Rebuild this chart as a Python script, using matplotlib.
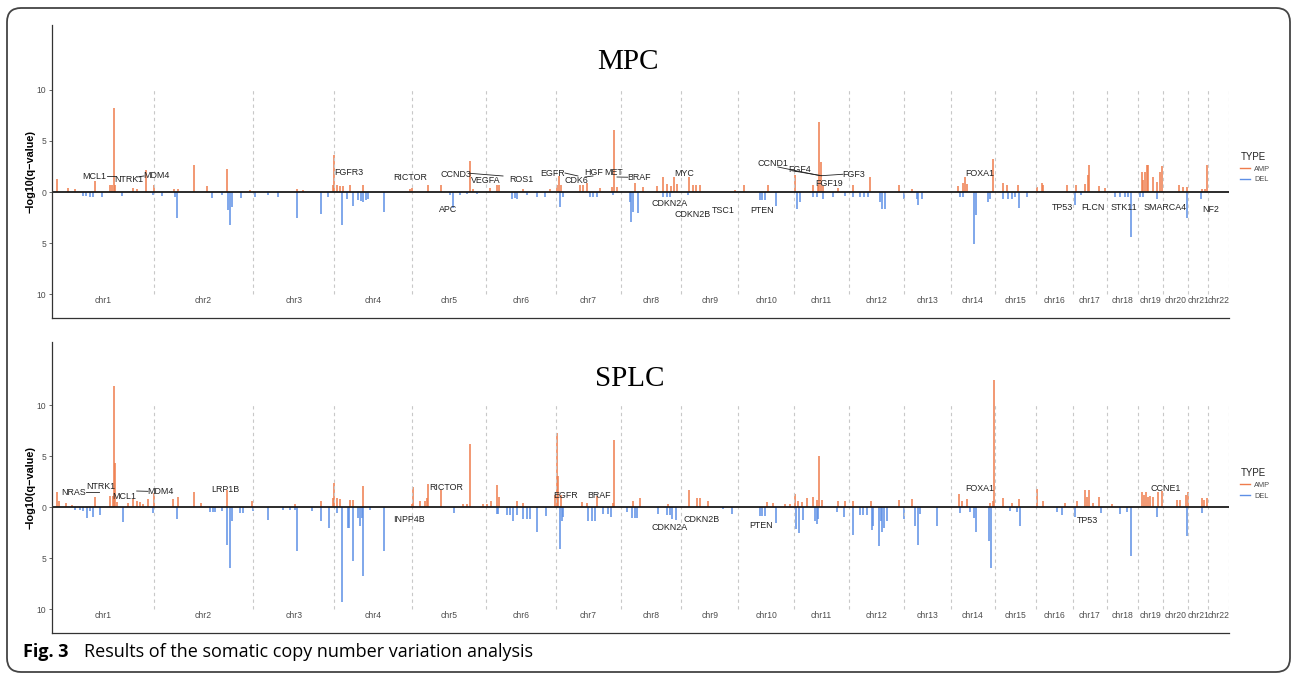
### Somatic copy number variation (GISTIC-style) plot, MPC vs SPLC

import numpy as np
import matplotlib.pyplot as plt
from matplotlib.lines import Line2D
from matplotlib.patches import FancyBboxPatch

# chromosome names and hg19 lengths (Mb)
chrom_names = ['chr' + str(i) for i in range(1, 23)]
chrom_len = [249.25, 243.20, 198.02, 191.15, 180.92, 171.12, 159.14, 146.36, 141.21, 135.53, 135.01,
             133.85, 115.17, 107.35, 102.53, 90.35, 81.20, 78.08, 59.13, 63.03, 48.13, 51.30]

# MPC: genome position (Mb, cumulative) and -log10(q)
mpc_amp_pos = [13.0, 39.2, 56.3, 105.3, 142.0, 146.9, 152.5, 155.4, 198.3, 208.9, 229.4, 249.7, 298.6, 308.4,
               346.9, 378.6, 428.3, 484.6, 599.0, 615.1, 691.0, 687.8, 697.6, 705.0, 712.3, 729.4, 760.5,
               876.3, 880.5, 919.6, 951.4, 1023.2, 1031.3, 1072.1, 1089.3, 1094.9, 1153.6, 1218.9, 1241.0,
               1236.1, 1245.9, 1292.4, 1299.8, 1308.8, 1341.3, 1376.4, 1370.0, 1382.2, 1427.0, 1447.4,
               1480.1, 1494.9, 1504.6, 1514.4, 1523.2, 1530.6, 1559.9, 1569.0, 1576.3, 1586.1, 1671.8,
               1693.8, 1752.6, 1818.7, 1862.7, 1875.0, 1877.4, 1882.3, 1887.9, 1924.7, 1959.9, 2002.2,
               2074.0, 2104.3, 2218.4, 2230.7, 2235.6, 2238.9, 2304.1, 2327.1, 2336.9, 2365.3, 2410.3,
               2422.6, 2426.4, 2483.7, 2506.5, 2528.5, 2535.1, 2539.0, 2563.5, 2577.4, 2668.0, 2671.7,
               2675.4, 2679.5, 2683.4, 2695.7, 2704.0, 2712.1, 2717.7, 2759.3, 2769.1, 2778.1, 2814.2,
               2822.2, 2827.9]
mpc_amp_val = [1.24, 0.4, 0.3, 1.1, 0.65, 0.65, 8.2, 0.65, 0.4, 0.3, 2.2, 0.65, 0.3, 0.25,
               2.6, 0.6, 2.3, 0.2, 0.3, 0.15, 3.66, 0.65, 0.65, 0.6, 0.55, 0.7, 0.7,
               0.25, 0.4, 0.7, 0.7, 3.0, 0.3, 0.4, 0.65, 0.65, 0.3, 0.25, 1.6,
               0.65, 0.65, 0.7, 0.7, 0.9, 0.4, 6.05, 0.5, 0.5, 0.9, 0.5,
               0.6, 1.5, 0.8, 0.6, 1.45, 0.8, 1.5, 0.65, 0.65, 0.65, 0.2,
               0.7, 0.65, 1.63, 0.65, 0.65, 6.86, 2.9, 0.6, 0.4, 0.65, 1.47,
               0.7, 0.3, 0.6, 0.9, 1.47, 0.8, 3.27, 0.9, 0.7, 0.7, 0.5,
               0.9, 0.65, 0.7, 0.65, 0.8, 1.7, 2.6, 0.6, 0.4, 2.0, 1.2,
               2.0, 2.6, 2.6, 1.47, 1.0, 2.0, 2.55, 0.7, 0.5, 0.5, 0.3,
               0.3, 2.6]
mpc_del_pos = [75.9, 83.2, 93.0, 101.1, 121.6, 170.6, 248.0, 268.5, 301.1, 305.2, 390.9, 415.4, 431.6,
               435.7, 439.9, 461.9, 496.9, 529.5, 553.9, 600.4, 657.7, 676.3, 709.8, 721.3, 736.0, 749.0,
               756.3, 762.0, 768.6, 773.5, 813.4, 974.2, 982.3, 998.7, 1015.1, 1039.6, 1126.0, 1133.3,
               1138.2, 1162.0, 1186.4, 1206.7, 1243.5, 1251.6, 1316.9, 1324.2, 1334.0, 1373.9, 1414.8,
               1417.2, 1422.9, 1435.1, 1495.5, 1504.6, 1512.7, 1557.5, 1733.0, 1739.1, 1745.2, 1771.4,
               1822.8, 1830.9, 1862.7, 1872.5, 1887.9, 1911.7, 1941.1, 1961.4, 1977.8, 1987.6, 1997.4,
               2026.7, 2031.6, 2039.0, 2085.5, 2117.3, 2120.5, 2129.5, 2222.5, 2230.7, 2256.8, 2261.0,
               2291.8, 2296.0, 2328.6, 2340.1, 2349.8, 2357.2, 2367.0, 2385.8, 2504.0, 2518.0, 2601.9,
               2614.2, 2626.4, 2633.8, 2641.1, 2663.1, 2670.5, 2704.0, 2777.4, 2811.7]
mpc_del_val = [0.4, 0.4, 0.45, 0.5, 0.5, 0.4, 0.3, 0.4, 0.5, 2.5, 0.6, 0.3, 1.8,
               3.2, 1.5, 0.6, 0.5, 0.25, 0.5, 2.5, 2.2, 0.5, 3.2, 0.65, 1.4, 0.8,
               0.9, 1.0, 0.8, 0.7, 2.0, 0.3, 1.57, 0.3, 0.2, 0.2, 0.65, 0.6,
               0.65, 0.3, 0.5, 0.5, 1.47, 0.5, 0.5, 0.5, 0.5, 0.3, 1.0,
               2.94, 2.0, 2.1, 0.5, 0.5, 0.5, 0.25, 0.8, 0.8, 0.8, 1.4,
               1.63, 1.0, 0.5, 0.5, 0.65, 0.5, 0.35, 0.5, 0.5, 0.5, 0.5,
               1.0, 1.63, 1.63, 0.65, 0.65, 1.25, 0.65, 0.5, 0.5, 5.07, 2.3,
               1.0, 0.65, 0.65, 0.65, 0.65, 0.5, 1.57, 0.5, 1.3, 0.3, 0.5,
               0.5, 0.5, 0.5, 4.4, 0.5, 0.5, 0.65, 2.55, 0.65]

# SPLC
splc_amp_pos = [13.0, 17.9, 34.3, 48.2, 105.3, 142.0, 149.3, 151.8, 153.5, 158.4, 186.8, 199.0, 208.8,
                215.4, 223.5, 234.3, 249.7, 296.9, 309.2, 346.9, 364.0, 427.6, 490.3, 594.8, 657.7,
                690.3, 687.8, 697.6, 705.0, 729.4, 736.8, 760.5, 880.5, 882.9, 900.8, 913.0, 917.2,
                919.6, 951.4, 1006.8, 1015.8, 1023.2, 1055.7, 1064.8, 1073.8, 1089.9, 1094.9, 1137.4,
                1152.2, 1236.9, 1239.3, 1231.2, 1245.9, 1296.6, 1308.8, 1333.2, 1373.9, 1376.4, 1422.9,
                1439.3, 1508.5, 1559.9, 1578.8, 1586.1, 1606.5, 1749.4, 1765.6, 1794.2, 1806.4, 1818.7,
                1826.7, 1835.0, 1847.3, 1863.5, 1871.8, 1878.1, 1884.7, 1924.7, 1941.1, 1961.4, 2004.0,
                2074.0, 2104.3, 2220.0, 2227.4, 2238.9, 2296.0, 2303.3, 2305.8, 2328.6, 2349.1, 2367.7,
                2411.8, 2426.4, 2479.5, 2508.1, 2528.5, 2532.6, 2539.0, 2548.8, 2563.5, 2593.9, 2668.0,
                2672.9, 2677.8, 2682.7, 2687.6, 2695.7, 2708.0, 2716.2, 2753.7, 2761.0, 2775.7, 2781.4,
                2814.2, 2819.8, 2826.4]
splc_amp_val = [1.47, 0.6, 0.4, 0.2, 1.0, 1.05, 1.05, 11.86, 4.3, 0.5, 0.4, 0.8, 0.55,
                0.5, 0.3, 0.8, 1.37, 0.8, 0.95, 1.44, 0.4, 1.7, 0.55, 0.33, 0.55,
                2.35, 0.9, 0.9, 0.8, 0.7, 0.7, 2.1, 0.3, 1.96, 0.6, 0.6, 0.9,
                2.25, 1.7, 0.33, 0.33, 6.18, 0.3, 0.3, 0.62, 2.2, 0.95, 0.6,
                0.35, 7.25, 3.0, 1.2, 1.2, 0.5, 0.4, 1.05, 0.4, 6.6, 0.6,
                0.88, 0.33, 1.63, 0.88, 0.88, 0.55, 0.45, 0.4, 0.3, 0.25, 1.27,
                0.6, 0.5, 0.88, 0.95, 0.7, 4.97, 0.7, 0.6, 0.55, 0.6, 0.6,
                0.7, 0.8, 1.3, 0.6, 0.8, 0.4, 0.6, 12.45, 0.88, 0.4, 0.8,
                1.76, 0.55, 0.4, 0.55, 1.7, 1.0, 1.7, 0.4, 0.95, 0.3, 1.5,
                1.2, 1.5, 1.0, 1.05, 0.95, 1.5, 1.6, 0.7, 0.7, 1.2, 1.44,
                0.9, 0.7, 0.9]
splc_del_pos = [56.3, 68.5, 75.9, 86.4, 93.0, 101.1, 117.5, 173.1, 248.0, 306.7, 386.7, 394.1, 399.0,
                416.1, 429.1, 435.7, 439.9, 460.2, 467.5, 492.7, 528.0, 566.2, 582.6, 594.8, 600.4,
                635.7, 657.7, 678.0, 696.9, 709.8, 723.8, 727.0, 736.0, 749.0, 753.9, 758.8, 762.0,
                778.4, 813.4, 984.0, 1088.5, 1092.4, 1113.7, 1121.1, 1129.2, 1138.2, 1153.6, 1162.7,
                1170.0, 1186.4, 1209.2, 1243.5, 1247.6, 1251.6, 1312.7, 1320.9, 1329.1, 1349.5, 1361.7,
                1367.5, 1406.7, 1418.9, 1427.0, 1432.6, 1484.0, 1504.6, 1512.7, 1516.8, 1526.6, 1643.2,
                1663.7, 1733.0, 1739.1, 1745.2, 1772.2, 1821.1, 1827.6, 1839.0, 1867.6, 1871.8, 1875.0,
                1922.3, 1938.6, 1959.9, 1977.8, 1985.9, 1994.1, 2006.4, 2010.3, 2025.0, 2029.2, 2031.6,
                2036.5, 2043.1, 2085.5, 2112.4, 2120.5, 2124.6, 2165.5, 2222.5, 2247.0, 2256.8, 2261.0,
                2294.3, 2297.7, 2344.9, 2361.3, 2369.4, 2459.2, 2471.5, 2504.0, 2566.9, 2614.2, 2630.6,
                2641.1, 2704.0, 2777.4, 2814.2]
splc_del_val = [0.26, 0.3, 0.4, 1.08, 0.4, 1.0, 0.75, 1.5, 0.6, 1.18, 0.5, 0.5, 0.5,
                0.4, 3.7, 6.0, 1.4, 0.6, 0.6, 0.4, 1.3, 0.26, 0.26, 0.3, 4.28,
                0.4, 1.4, 2.06, 0.6, 9.3, 2.06, 2.06, 5.26, 1.08, 1.9, 1.08, 6.73,
                0.25, 4.28, 0.6, 0.7, 0.7, 0.75, 0.75, 1.34, 0.75, 1.14, 1.14,
                1.14, 2.45, 0.9, 4.1, 1.4, 1.0, 1.34, 1.34, 1.34, 0.7, 0.7,
                1.0, 0.5, 1.08, 1.08, 1.08, 0.7, 0.75, 0.75, 1.14, 1.24, 0.2,
                0.7, 0.9, 0.9, 0.9, 1.54, 2.2, 2.55, 1.24, 1.4, 1.67, 1.2,
                0.5, 1.0, 2.78, 0.82, 0.82, 0.82, 2.3, 1.9, 3.86, 1.34, 2.4,
                2.06, 1.34, 1.14, 1.9, 3.7, 0.7, 1.9, 0.6, 0.5, 1.08, 2.45,
                3.37, 5.98, 0.4, 0.5, 1.83, 0.5, 0.82, 1.0, 0.6, 0.7, 0.5,
                4.77, 1.0, 2.84, 0.6]

# gene labels: name, x (Mb), y
mpc_genes = ['MCL1', 'NTRK1', 'MDM4', 'FGFR3', 'RICTOR', 'CCND3', 'VEGFA', 'ROS1', 'EGFR', 'CDK6', 'HGF',
             'MET', 'BRAF', 'MYC', 'CCND1', 'FGF4', 'FGF3', 'FGF19', 'FOXA1', 'APC', 'CDKN2A', 'CDKN2B',
             'TSC1', 'PTEN', 'TP53', 'FLCN', 'STK11', 'SMARCA4', 'NF2']
mpc_gene_x = [103.5, 186.8, 256.3, 727.0, 876.3, 988.9, 1062.3, 1148.0, 1224.6, 1282.6, 1325.0,
              1374.9, 1437.6, 1547.7, 1765.5, 1830.9, 1963.1, 1901.9, 2271.5, 969.3, 1512.7, 1568.3,
              1643.2, 1737.9, 2473.9, 2547.3, 2624.7, 2724.3, 2836.9]
mpc_gene_y = [1.5, 1.18, 1.6, 1.93, 1.4, 1.76, 1.1, 1.18, 1.86, 1.1, 1.96,
              1.96, 1.47, 1.8, 2.8, 2.2, 1.7, 0.88, 1.86, -1.73, -1.1, -2.16,
              -1.8, -1.8, -1.5, -1.5, -1.5, -1.5, -1.67]
# repel segments (x0, y0, x1, y1)
mpc_segs = [(134.6, 1.57, 154.2, 1.57), (208.1, 1.47, 225.2, 1.57), (1023.2, 1.83, 1104.0, 1.57),
            (1255.7, 1.86, 1287.5, 1.57), (1304.8, 1.47, 1324.3, 1.57), (1383.0, 1.47, 1409.4, 1.45),
            (1777.1, 2.45, 1879.9, 1.6), (1810.5, 2.09, 1884.0, 1.6), (1884.0, 1.6, 1936.2, 1.74)]

splc_genes = ['NRAS', 'NTRK1', 'MCL1', 'MDM4', 'LRP1B', 'RICTOR', 'INPP4B', 'EGFR', 'BRAF', 'CDKN2A',
              'CDKN2B', 'PTEN', 'FOXA1', 'TP53', 'CCNE1']
splc_gene_x = [53.9, 120.7, 177.0, 264.4, 425.2, 963.7, 873.1, 1257.4, 1338.2, 1511.0,
               1591.0, 1736.2, 2271.5, 2534.2, 2726.8]
splc_gene_y = [1.4, 2.0, 1.0, 1.57, 1.76, 1.9, -1.18, 1.1, 1.1, -2.0,
               -1.18, -1.83, 1.83, -1.3, 1.83]
splc_segs = [(83.2, 1.47, 115.8, 1.47), (207.3, 1.57, 235.0, 1.54)]

amp_col = '#EF7C4C'
del_col = '#5D8FE6'

fig = plt.figure(figsize=(12.92, 6.74), dpi=100)

chrom_end = np.cumsum(chrom_len)
chrom_mid = chrom_end - np.array(chrom_len) / 2.0


def cnv_panel(ax, amp_pos, amp_val, del_pos, del_val, genes, gx, gy, segs, top):
    ax.vlines(amp_pos, 0, amp_val, color=amp_col, lw=1.1)
    ax.vlines(del_pos, 0, -np.array(del_val), color=del_col, lw=1.1)
    ax.vlines(chrom_end, -10, 10, color='#c8c8c8', lw=0.8, linestyles=(0, (3, 3)))
    ax.axhline(0, color='#1a1a1a', lw=1.3)
    for i in range(len(chrom_names)):
        ax.text(chrom_mid[i], -10.6, chrom_names[i], ha='center', va='center',
                fontsize=6.2, color='#4d4d4d', family='Liberation Sans')
    for s in segs:
        ax.plot([s[0], s[2]], [s[1], s[3]], color='#222222', lw=0.6)
    for i in range(len(genes)):
        ax.text(gx[i], gy[i], genes[i], ha='center', va='center', fontsize=6.4,
                color='#222222', family='Liberation Sans')
    ax.set_xlim(0, chrom_end[-1])
    ax.set_ylim(-12.35, top)
    ax.set_yticks([-10, -5, 0, 5, 10])
    ax.set_yticklabels(['10', '5', '0', '5', '10'], fontsize=6.2, color='#4d4d4d',
                       family='Liberation Sans')
    ax.tick_params(axis='y', length=2.5, width=0.6, color='#4d4d4d', pad=1.5)
    ax.set_xticks([])
    ax.spines['top'].set_visible(False)
    ax.spines['right'].set_visible(False)
    ax.spines['left'].set_color('#333333')
    ax.spines['bottom'].set_color('#333333')
    ax.spines['left'].set_linewidth(0.9)
    ax.spines['bottom'].set_linewidth(0.9)
    ax.set_ylabel('\u2212log10(q\u2212value)', fontsize=7.8, fontweight='bold',
                  family='Liberation Sans', labelpad=1)
    handles = [Line2D([], [], color=amp_col, lw=1.0), Line2D([], [], color=del_col, lw=1.0)]
    leg = ax.legend(handles, ['AMP', 'DEL'], title='TYPE', loc='upper left',
                    bbox_to_anchor=(1.004, 0.59), frameon=False,
                    title_fontsize=7, handlelength=1.3, handletextpad=0.6,
                    labelspacing=0.5, prop={'family': 'Liberation Sans', 'size': 5.3})
    leg._legend_box.align = 'left'
    leg.get_title().set_family('Liberation Sans')
    leg.get_title().set_color('#222222')
    for t in leg.get_texts():
        t.set_color('#4d4d4d')


ax1 = fig.add_axes([52 / 1292, 1 - 318 / 674, 1177 / 1292, 293 / 674])
cnv_panel(ax1, mpc_amp_pos, mpc_amp_val, mpc_del_pos, mpc_del_val,
          mpc_genes, mpc_gene_x, mpc_gene_y, mpc_segs, 16.37)
fig.text(628 / 1292, 1 - 62 / 674, 'MPC', ha='center', va='center', fontsize=21,
         family='Liberation Serif')

ax2 = fig.add_axes([52 / 1292, 1 - 633 / 674, 1177 / 1292, 291 / 674])
cnv_panel(ax2, splc_amp_pos, splc_amp_val, splc_del_pos, splc_del_val,
          splc_genes, splc_gene_x, splc_gene_y, splc_segs, 16.18)
fig.text(630 / 1292, 1 - 379 / 674, 'SPLC', ha='center', va='center', fontsize=21,
         family='Liberation Serif')

# caption and outer frame
fig.text(23 / 1292, 1 - 652 / 674, 'Fig. 3', ha='left', va='center', fontsize=13,
         fontweight='bold', family='Open Sans')
fig.text(84 / 1292, 1 - 652 / 674, 'Results of the somatic copy number variation analysis',
         ha='left', va='center', fontsize=13, family='Open Sans')
frame = FancyBboxPatch((7, 2), 1283, 664, boxstyle='round,pad=0,rounding_size=14',
                       transform=None, fill=False, edgecolor='#444444', lw=1.3)
fig.patches.append(frame)

plt.savefig('out.png', dpi=100)
